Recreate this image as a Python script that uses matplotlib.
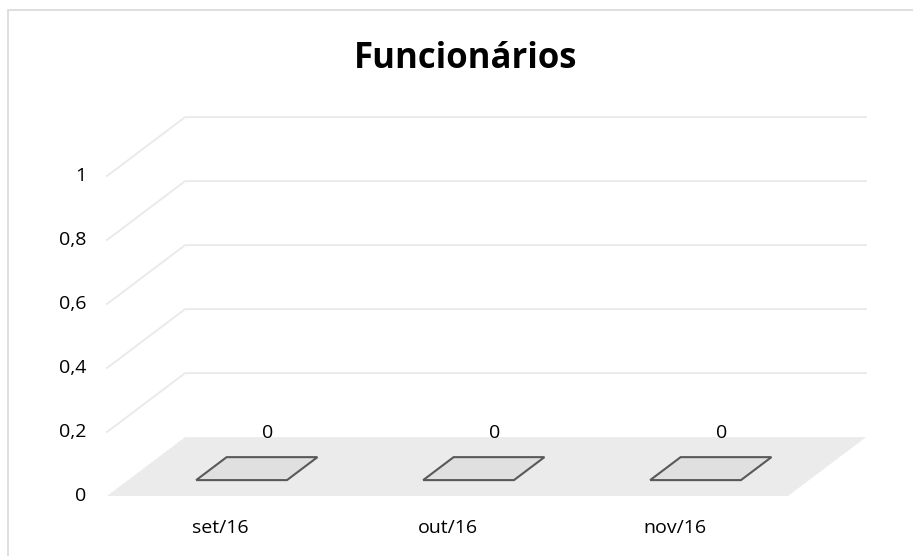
import matplotlib.pyplot as plt
from matplotlib.patches import Polygon, Rectangle

categories = ["set/16", "out/16", "nov/16"]
values = [0, 0, 0]
y_ticks = [0, 0.2, 0.4, 0.6, 0.8, 1.0]
y_tick_labels = ["0", "0,2", "0,4", "0,6", "0,8", "1"]
title = "Funcionários"

# oblique depth offset (in data units) for the fake 3D look
DX = 0.344
DY = 0.184
BAR_W = 0.4
D0, D1 = 0.27, 0.66   # bar depth span (fraction of full depth)


def proj(x, y, d):
    return (x + d * DX, y + d * DY)


plt.rcParams['font.family'] = ['Open Sans', 'DejaVu Sans']

fig = plt.figure(figsize=(9.13, 5.56), dpi=100)
ax = fig.add_axes([0, 0, 1, 1])
ax.set_xlim(-0.9714, 3.0507)
ax.set_ylim(-0.1875, 1.55)
ax.axis('off')

# chart border
fig.patches.append(Rectangle((8 / 913, -0.1), 1.1, 1 - 10 / 556 + 0.1,
                             transform=fig.transFigure, fill=False,
                             edgecolor='#d9d9d9', linewidth=1.2))

x0, x1 = -0.5, len(categories) - 0.5
grid_c = '#e9e9e9'

# floor
floor = Polygon([proj(x0, 0, 0), proj(x1, 0, 0), proj(x1, 0, 1), proj(x0, 0, 1)],
                closed=True, facecolor='#ebebeb', edgecolor='none', zorder=1)
ax.add_patch(floor)

# gridlines: side wall diagonal + back wall horizontal
for t in y_ticks[1:]:
    a = proj(x0, t, 0)
    b = proj(x0, t, 1)
    c = proj(x1, t, 1)
    ax.plot([a[0], b[0], c[0]], [a[1], b[1], c[1]], color=grid_c, lw=1.3, zorder=0)

# bars (zero height -> only top face visible)
for i, v in enumerate(values):
    l, r = i - BAR_W / 2, i + BAR_W / 2
    top = Polygon([proj(l, v, D0), proj(r, v, D0), proj(r, v, D1), proj(l, v, D1)],
                  closed=True, facecolor='#e0e0e0', edgecolor='#595959',
                  linewidth=1.5, zorder=3)
    ax.add_patch(top)
    lx, ly = proj(i, v, 0.6)
    ax.text(lx, ly + 0.087, str(v), ha='center', va='center',
            fontsize=14, color='#000000', zorder=4)

# y tick labels
for t, lab in zip(y_ticks, y_tick_labels):
    ax.text(x0 - 0.09, t, lab, ha='right', va='center', fontsize=14, color='#000000')

# category labels
for i, cat in enumerate(categories):
    ax.text(i, -0.1, cat, ha='center', va='center', fontsize=14, color='#000000')

fig.text(466 / 913, 1 - 68 / 556, title, ha='center', va='baseline', fontsize=25,
         fontweight='bold', color='#000000')

fig.savefig('out.png', dpi=100)
